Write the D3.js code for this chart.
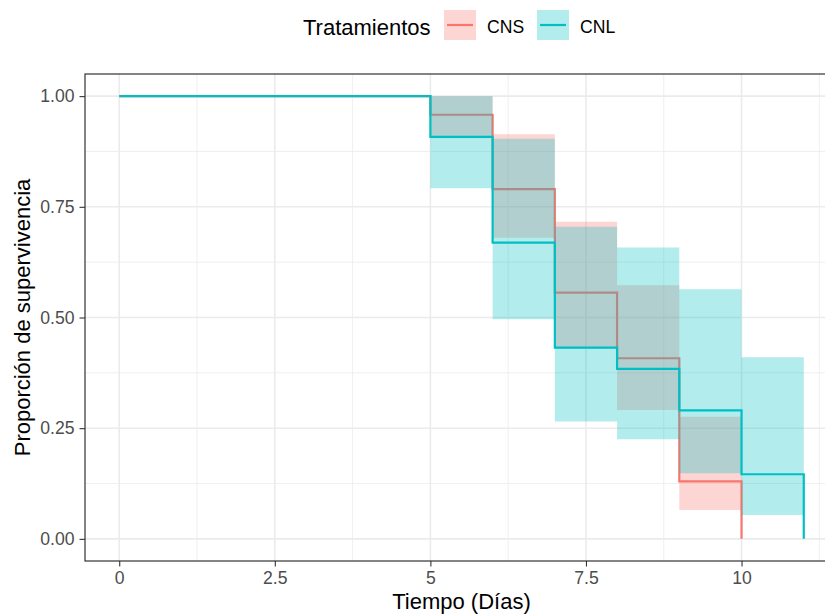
<!DOCTYPE html>
<html>
<head>
<meta charset="utf-8">
<script src="https://cdn.jsdelivr.net/npm/d3@7"></script>
<style>
  html, body { margin: 0; padding: 0; background: #ffffff; }
  svg { display: block; font-family: "Liberation Sans", Arial, sans-serif; }
</style>
</head>
<body>
<svg id="chart" width="825" height="614"></svg>
<script>
// Kaplan–Meier survival by treatment: step times, estimates and 95% band per interval
const groups = ["CNS", "CNL"];
const colors = ["#F8766D", "#00BFC4"];

const timesCNS = [0, 5, 6, 7, 8, 9, 10];
const survCNS  = [1, 0.958, 0.790, 0.556, 0.408, 0.130, 0];
const upperCNS = [1, 1.000, 0.914, 0.716, 0.573, 0.276];
const lowerCNS = [1, 0.905, 0.680, 0.430, 0.291, 0.065];

const timesCNL = [0, 5, 6, 7, 8, 9, 10, 11];
const survCNL  = [1, 0.908, 0.669, 0.432, 0.384, 0.290, 0.146, 0];
const upperCNL = [1, 1.000, 0.904, 0.705, 0.658, 0.564, 0.410];
const lowerCNL = [1, 0.792, 0.496, 0.265, 0.225, 0.148, 0.054];

const xTicks = [0, 2.5, 5, 7.5, 10];
const xTickLabels = ["0", "2.5", "5", "7.5", "10"];
const yTicks = [0, 0.25, 0.5, 0.75, 1];
const yTickLabels = ["0.00", "0.25", "0.50", "0.75", "1.00"];
const xMinor = [1.25, 3.75, 6.25, 8.75, 11.25];
const yMinor = [0.125, 0.375, 0.625, 0.875];

const series = [
  { name: groups[0], color: colors[0], times: timesCNS, surv: survCNS, upper: upperCNS, lower: lowerCNS },
  { name: groups[1], color: colors[1], times: timesCNL, surv: survCNL, upper: upperCNL, lower: lowerCNL }
];

const svg = d3.select("#chart");
const panel = { left: 85, top: 74, right: 838, bottom: 561 };

const x = d3.scaleLinear().domain([-0.55, 11.55]).range([panel.left, panel.right]);
const y = d3.scaleLinear().domain([-0.05, 1.05]).range([panel.bottom, panel.top]);

const clip = svg.append("defs").append("clipPath").attr("id", "panelClip")
  .append("rect")
  .attr("x", panel.left).attr("y", panel.top)
  .attr("width", panel.right - panel.left).attr("height", panel.bottom - panel.top);

const plot = svg.append("g").attr("clip-path", "url(#panelClip)");

// grid
plot.selectAll(".xminor").data(xMinor).enter().append("line")
  .attr("x1", d => x(d)).attr("x2", d => x(d))
  .attr("y1", panel.top).attr("y2", panel.bottom)
  .attr("stroke", "#ebebeb").attr("stroke-width", 0.8);
plot.selectAll(".yminor").data(yMinor).enter().append("line")
  .attr("y1", d => y(d)).attr("y2", d => y(d))
  .attr("x1", panel.left).attr("x2", panel.right)
  .attr("stroke", "#ebebeb").attr("stroke-width", 0.8);
plot.selectAll(".xmajor").data(xTicks).enter().append("line")
  .attr("x1", d => x(d)).attr("x2", d => x(d))
  .attr("y1", panel.top).attr("y2", panel.bottom)
  .attr("stroke", "#ebebeb").attr("stroke-width", 1.6);
plot.selectAll(".ymajor").data(yTicks).enter().append("line")
  .attr("y1", d => y(d)).attr("y2", d => y(d))
  .attr("x1", panel.left).attr("x2", panel.right)
  .attr("stroke", "#ebebeb").attr("stroke-width", 1.6);

// confidence bands and survival steps, one treatment at a time
const area = d3.area()
  .curve(d3.curveStepAfter)
  .x(d => x(d.t)).y0(d => y(d.lo)).y1(d => y(d.hi));
const line = d3.line()
  .curve(d3.curveStepAfter)
  .x(d => x(d.t)).y(d => y(d.s));

series.forEach(s => {
  const band = s.upper.map((u, i) => ({ t: s.times[i], hi: u, lo: s.lower[i] }));
  const last = s.upper.length - 1;
  band.push({ t: s.times[last + 1], hi: s.upper[last], lo: s.lower[last] });
  plot.append("path")
    .datum(band)
    .attr("d", area)
    .attr("fill", s.color)
    .attr("fill-opacity", 0.3);

  const pts = s.times.map((t, i) => ({ t: t, s: s.surv[i] }));
  plot.append("path")
    .datum(pts)
    .attr("d", line)
    .attr("fill", "none")
    .attr("stroke", s.color)
    .attr("stroke-width", 2.2);
});

// panel border
svg.append("rect")
  .attr("x", panel.left).attr("y", panel.top)
  .attr("width", panel.right - panel.left).attr("height", panel.bottom - panel.top)
  .attr("fill", "none").attr("stroke", "#333333").attr("stroke-width", 1.2);

// axes
const xAxis = svg.append("g")
  .attr("transform", `translate(0,${panel.bottom})`)
  .call(d3.axisBottom(x).tickValues(xTicks).tickFormat((d, i) => xTickLabels[i])
    .tickSize(5.5).tickPadding(5));
const yAxis = svg.append("g")
  .attr("transform", `translate(${panel.left},0)`)
  .call(d3.axisLeft(y).tickValues(yTicks).tickFormat((d, i) => yTickLabels[i])
    .tickSize(5.5).tickPadding(5));
[xAxis, yAxis].forEach(a => {
  a.select(".domain").remove();
  a.selectAll(".tick line").attr("stroke", "#333333").attr("stroke-width", 1.1);
  a.selectAll(".tick text")
    .attr("fill", "#4d4d4d")
    .style("font-size", "17.6px")
    .style("font-family", "'Liberation Sans', Arial, sans-serif");
});

// axis titles
svg.append("text")
  .attr("x", (panel.left + panel.right) / 2)
  .attr("y", 609)
  .attr("text-anchor", "middle")
  .style("font-size", "22px")
  .attr("fill", "#000")
  .text("Tiempo (Días)");
svg.append("text")
  .attr("transform", `translate(30,${(panel.top + panel.bottom) / 2}) rotate(-90)`)
  .attr("text-anchor", "middle")
  .style("font-size", "22px")
  .attr("fill", "#000")
  .text("Proporción de supervivencia");

// legend
const legend = svg.append("g");
legend.append("text")
  .attr("x", 303).attr("y", 35)
  .style("font-size", "22px")
  .attr("fill", "#000")
  .text("Tratamientos");
const keyX = [444, 537];
const keyW = 32, keyH = 30, keyTop = 10;
series.forEach((s, i) => {
  const g = legend.append("g").attr("transform", `translate(${keyX[i]},${keyTop})`);
  g.append("rect")
    .attr("width", keyW).attr("height", keyH)
    .attr("fill", s.color).attr("fill-opacity", 0.3);
  g.append("line")
    .attr("x1", 3).attr("x2", keyW - 3)
    .attr("y1", keyH / 2).attr("y2", keyH / 2)
    .attr("stroke", s.color).attr("stroke-width", 2.2);
  legend.append("text")
    .attr("x", keyX[i] + keyW + 11).attr("y", 33)
    .style("font-size", "17.6px")
    .attr("fill", "#000")
    .text(s.name);
});
</script>
</body>
</html>
